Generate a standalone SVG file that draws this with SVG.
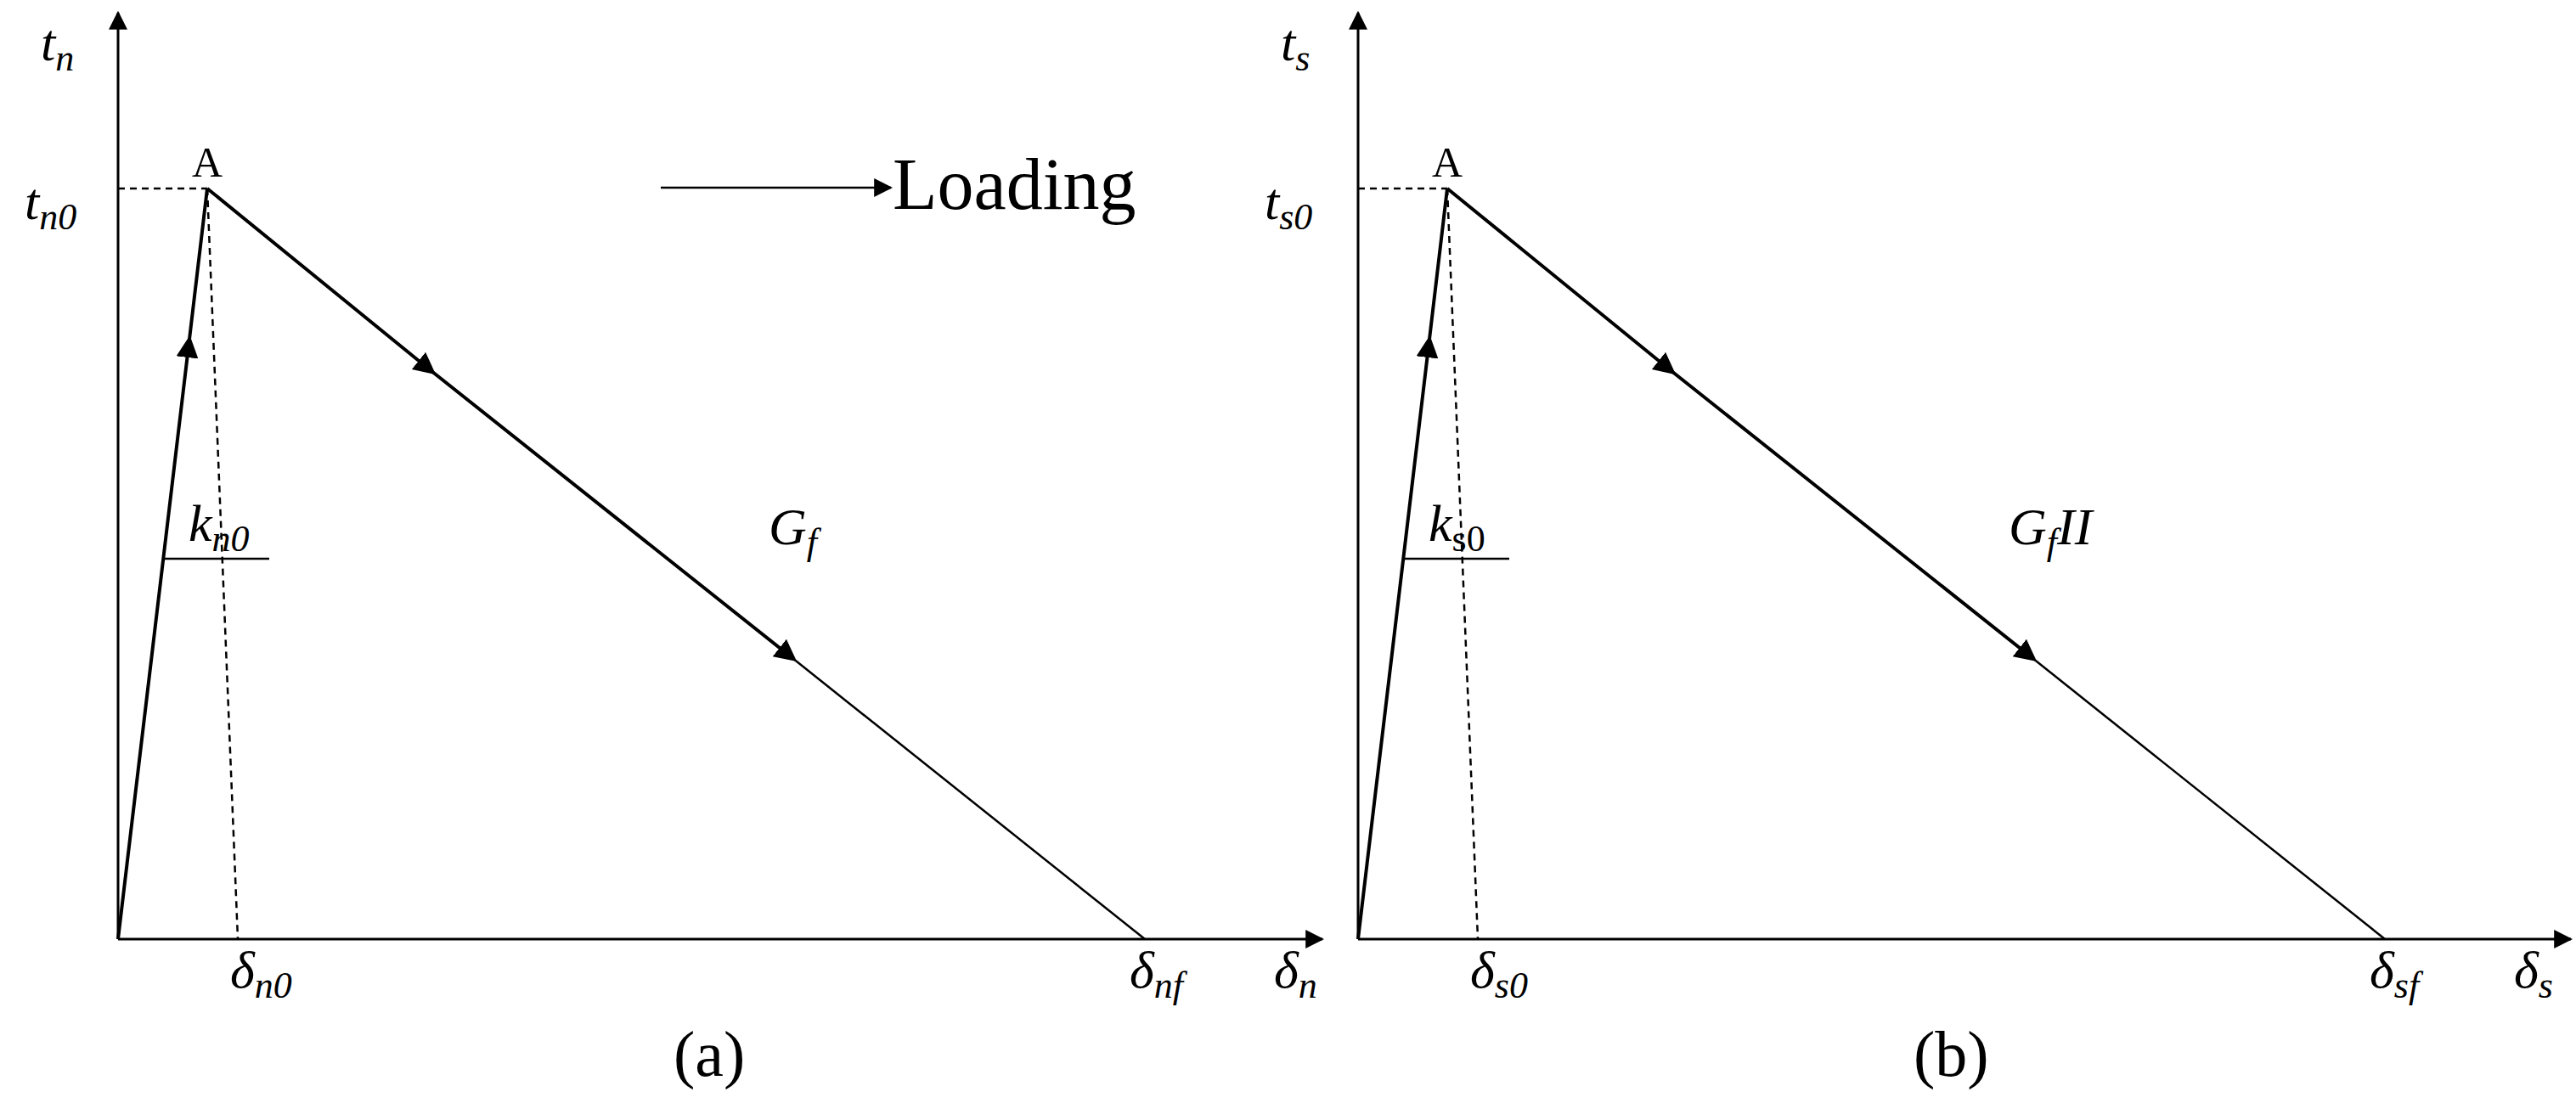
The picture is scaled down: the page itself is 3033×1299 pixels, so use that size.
<svg xmlns="http://www.w3.org/2000/svg" width="3033" height="1299" viewBox="0 0 3033 1299">
<style>
.m{font-family:"Liberation Serif","DejaVu Serif",serif;font-style:italic;font-size:62px;fill:#000}
.s{font-size:44px}
.r{font-family:"Liberation Serif","DejaVu Serif",serif;fill:#000}
.ax{stroke:#000;stroke-width:3;fill:none}
.th{stroke:#000;stroke-width:4;fill:none}
.tn{stroke:#000;stroke-width:2.5;fill:none}
.d{stroke:#000;stroke-width:2.5;stroke-dasharray:8,6;fill:none}
</style>
<defs>
<marker id="ah" viewBox="0 0 10 10" refX="9" refY="5" markerWidth="22" markerHeight="22" markerUnits="userSpaceOnUse" orient="auto"><path d="M0,0 L10,5 L0,10 z" fill="#000"/></marker>
<marker id="mid" viewBox="0 0 10 10" refX="5" refY="5" markerWidth="26" markerHeight="26" markerUnits="userSpaceOnUse" orient="auto"><path d="M0,0 L10,5 L0,10 z" fill="#000"/></marker>
</defs>
<g id="panel-a">
<g id="connectors-a">
<line class="ax" x1="139" y1="1106" x2="139" y2="15" marker-end="url(#ah)"/>
<line class="ax" x1="139" y1="1106" x2="1557" y2="1106" marker-end="url(#ah)"/>
<polyline class="th" points="139,1106 222,408 244,222" marker-mid="url(#mid)"/>
<polyline class="th" points="244,222 503,433 928,771" marker-mid="url(#mid)" marker-end="url(#mid)"/>
<line class="tn" x1="928" y1="771" x2="1348" y2="1106"/>
<line class="d" x1="139" y1="222" x2="244" y2="222"/>
<line class="d" x1="244" y1="222" x2="280" y2="1106"/>
<line class="tn" x1="193" y1="658" x2="317" y2="658"/>
<line class="tn" x1="778" y1="221" x2="1049" y2="221" marker-end="url(#ah)"/>
</g>
<text class="r" x="226" y="208" font-size="50">A</text>
<text class="m" x="48" y="71">t<tspan class="s" dy="12">n</tspan></text>
<text class="m" x="29" y="258">t<tspan class="s" dy="12">n0</tspan></text>
<text class="m" x="222" y="637">k<tspan class="s" dy="12">n0</tspan></text>
<text class="m" x="905" y="641">G<tspan class="s" dy="12">f</tspan></text>
<text class="m" x="271" y="1163">δ<tspan class="s" dy="12">n0</tspan></text>
<text class="m" x="1330" y="1163">δ<tspan class="s" dy="12">nf</tspan></text>
<text class="m" x="1500" y="1163">δ<tspan class="s" dy="12">n</tspan></text>
<text class="r" x="1051" y="246" font-size="86">Loading</text>
<text class="r" x="793" y="1267" font-size="76">(a)</text>
</g>
<g id="panel-b" transform="translate(1460,0)">
<g id="connectors-b">
<line class="ax" x1="139" y1="1106" x2="139" y2="15" marker-end="url(#ah)"/>
<line class="ax" x1="139" y1="1106" x2="1567" y2="1106" marker-end="url(#ah)"/>
<polyline class="th" points="139,1106 222,408 244,222" marker-mid="url(#mid)"/>
<polyline class="th" points="244,222 503,433 928,771" marker-mid="url(#mid)" marker-end="url(#mid)"/>
<line class="tn" x1="928" y1="771" x2="1348" y2="1106"/>
<line class="d" x1="139" y1="222" x2="244" y2="222"/>
<line class="d" x1="244" y1="222" x2="280" y2="1106"/>
<line class="tn" x1="193" y1="658" x2="317" y2="658"/>
</g>
<text class="r" x="226" y="208" font-size="50">A</text>
<text class="m" x="48" y="71">t<tspan class="s" dy="12">s</tspan></text>
<text class="m" x="29" y="258">t<tspan class="s" dy="12">s0</tspan></text>
<text class="m" x="222" y="637">k<tspan class="s" dy="12" font-style="normal">s0</tspan></text>
<text class="m" x="905" y="641">G<tspan class="s" dy="12">f</tspan><tspan dy="-12">II</tspan></text>
<text class="m" x="271" y="1163">δ<tspan class="s" dy="12">s0</tspan></text>
<text class="m" x="1330" y="1163">δ<tspan class="s" dy="12">sf</tspan></text>
<text class="m" x="1500" y="1163">δ<tspan class="s" dy="12">s</tspan></text>
<text class="r" x="793" y="1267" font-size="76">(b)</text>
</g>
</svg>
